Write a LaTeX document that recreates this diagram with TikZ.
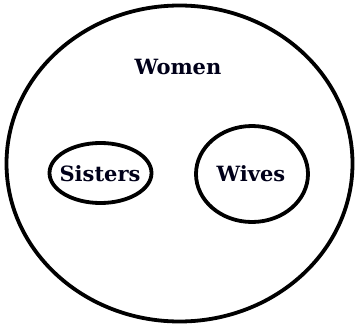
\documentclass[tikz,border=0pt]{standalone}
\usepackage{fontspec}
\setmainfont{DejaVu Serif}
\usetikzlibrary{shapes.geometric}
\begin{document}
\begin{tikzpicture}[x=1pt,y=-1pt,
  setline/.style={draw=black,line width=3.8pt},
  lbl/.style={font=\fontsize{21}{25}\selectfont\bfseries,text=black!90!blue}]
\useasboundingbox (0,0) rectangle (355,326);
\draw[setline] (179.5,163.5) ellipse [x radius=173,y radius=158];
\draw[setline] (100.5,173) ellipse [x radius=51,y radius=30];
\draw[setline] (252,174) ellipse [x radius=56,y radius=48];
\node[lbl] (women) at (178,67) {Women};
\node[lbl] (sisters) at (100,174) {Sisters};
\node[lbl] (wives) at (251,174) {Wives};
\end{tikzpicture}
\end{document}
